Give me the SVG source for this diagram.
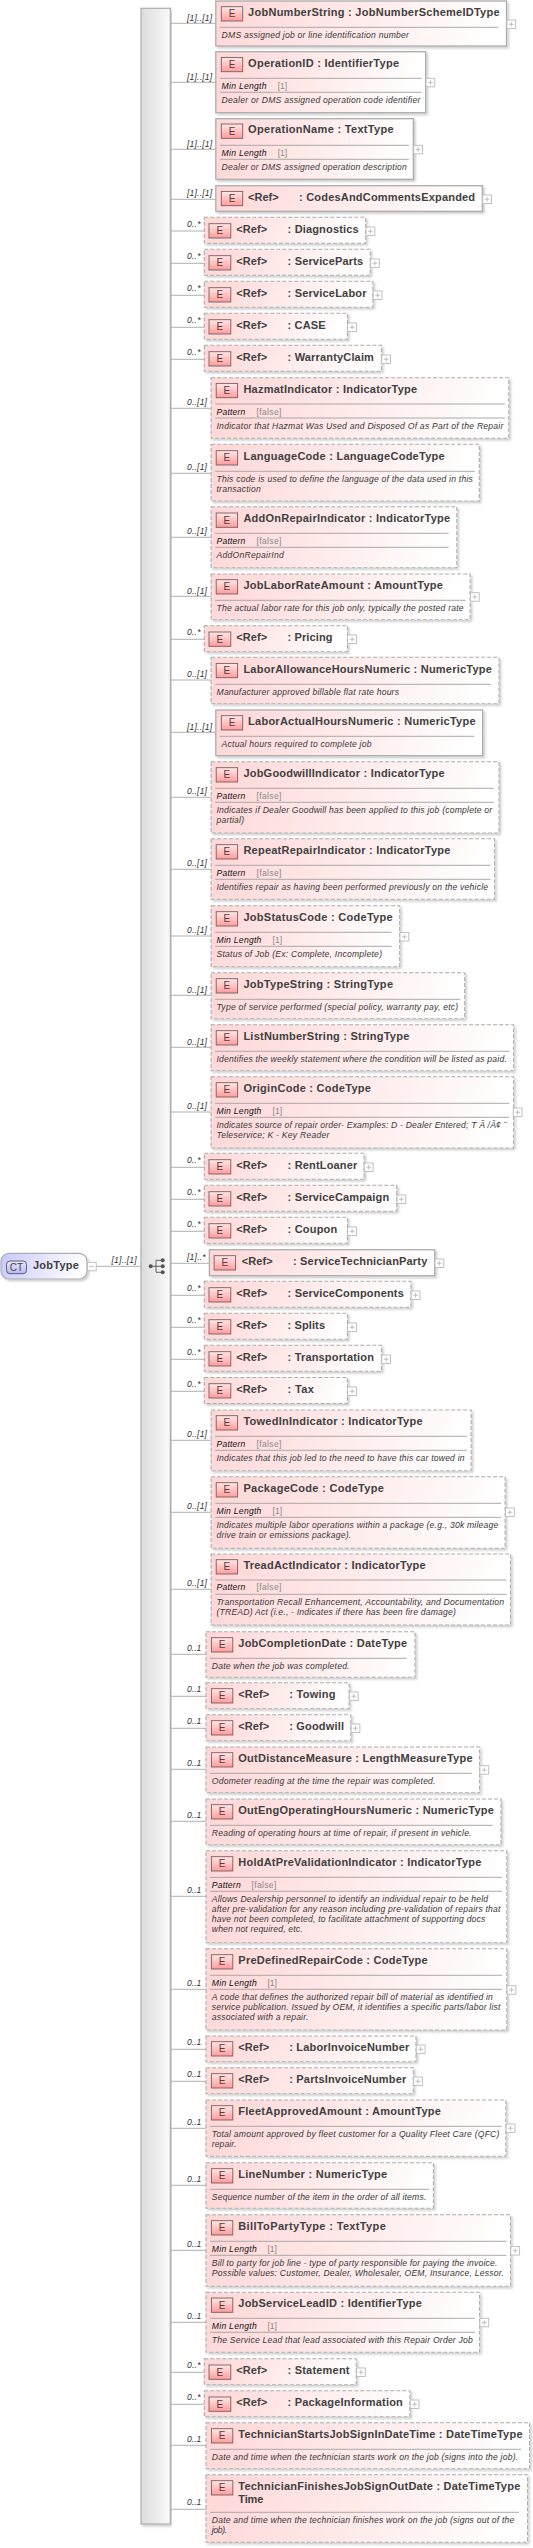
<svg xmlns="http://www.w3.org/2000/svg" xmlns:xlink="http://www.w3.org/1999/xlink" width="533" height="2548" viewBox="0 0 533 2548">
<style>
.bs,.bo{fill:url(#pk);stroke:#adadad;filter:url(#sh)}
.bs{stroke-width:1.3}
.bo{stroke-width:1.1;stroke-dasharray:4 2}
.eb{fill:url(#eg);stroke:#7b5c5c;stroke-width:.9}
text{font-family:"Liberation Sans",Arial,sans-serif}
.e{font-size:10px;fill:#5a3a3a;text-anchor:middle}
.t{font-size:11px;font-weight:bold;fill:#404040}
.d{font-size:8.6px;font-style:italic;fill:#383838}
.f{font-size:8.6px;font-style:italic;fill:#111}
.v{font-size:8.6px;fill:#8a8a8a}
.l{font-size:8.6px;font-style:italic;fill:#333}
.sp{stroke:#a0a0a0;stroke-width:.9;fill:none}
.c{stroke:#b0b0b0;stroke-width:1;fill:none}
.pb{fill:#fff;stroke:#bbb;stroke-width:.9}
.pl{stroke:#bbb;stroke-width:.9;fill:none}
</style>
<defs>
<linearGradient id="pk" x1="0" y1="0" x2="1" y2="0.08"><stop offset="0" stop-color="#ffd6d6"/><stop offset=".4" stop-color="#ffe6e6"/><stop offset="1" stop-color="#fff"/></linearGradient>
<linearGradient id="eg" x1="0" y1="0" x2="0" y2="1"><stop offset="0" stop-color="#ffe8e8"/><stop offset="1" stop-color="#ff9c9c"/></linearGradient>
<linearGradient id="bl" x1="0" y1="0" x2="1" y2="0.1"><stop offset="0" stop-color="#c8c8ff"/><stop offset="1" stop-color="#fff"/></linearGradient>
<linearGradient id="cg" x1="0" y1="0" x2="0" y2="1"><stop offset="0" stop-color="#e8e8ff"/><stop offset="1" stop-color="#b8b8f4"/></linearGradient>
<linearGradient id="br" x1="0" y1="0" x2="1" y2="0"><stop offset="0" stop-color="#dcdcdc"/><stop offset="1" stop-color="#fafafa"/></linearGradient>
<filter id="sh" x="-5%" y="-10%" width="110%" height="125%"><feDropShadow dx="1.8" dy="1.8" stdDeviation="1" flood-color="#000" flood-opacity=".2"/></filter>
<g id="plus"><rect class="pb" width="8.8" height="8.5"/><path class="pl" d="M2 4.25H6.8M4.4 1.9V6.6"/></g>
<g id="minus"><rect class="pb" width="8.8" height="8.5"/><path class="pl" d="M2 4.25H6.8"/></g>
</defs>

<g id="sequence-bar">
<rect x="141" y="8.3" width="29.3" height="2515.7" fill="url(#br)" stroke="#adadad" stroke-width="1.2" filter="url(#sh)"/>
<circle cx="150.7" cy="1266.3" r="2" fill="#555"/><circle cx="162.7" cy="1260.3" r="2" fill="#555"/><circle cx="162.7" cy="1266.3" r="2" fill="#555"/><circle cx="162.7" cy="1272.3" r="2" fill="#555"/>
<path d="M150.7 1266.3H156M156 1260.3V1272.3M156 1260.3H162.7M156 1266.3H162.7M156 1272.3H162.7" stroke="#555" stroke-width=".9" fill="none"/>
</g>

<g id="connectors">
<path class="c" d="M96 1266.3H141M170.3 23.3H215.8M170.3 82.3H215.8M170.3 149.3H215.8M170.3 199.3H215.8M170.3 231H204.3M170.3 263.3H204.3M170.3 295.3H204.3M170.3 327.3H204.3M170.3 359.3H204.3M170.3 408.3H211.1M170.3 473.3H211.1M170.3 537.3H211.1M170.3 596.3H211.1M170.3 639.3H204.3M170.3 680H211.1M170.3 732.3H215.8M170.3 797.3H211.1M170.3 869.3H211.1M170.3 936H211.1M170.3 995.3H211.1M170.3 1047.3H211.1M170.3 1112H211.1M170.3 1167.3H204.3M170.3 1199.3H204.3M170.3 1231.3H204.3M170.3 1263.3H209.4M170.3 1295.3H204.3M170.3 1327.3H204.3M170.3 1359.3H204.3M170.3 1391.3H204.3M170.3 1440.3H211.1M170.3 1512.3H211.1M170.3 1589.3H211.1M170.3 1654.3H206M170.3 1696.3H206M170.3 1728.3H206M170.3 1769.3H206M170.3 1821.3H206M170.3 1896.3H206M170.3 1989.3H206M170.3 2049.3H206M170.3 2081.3H206M170.3 2128.3H206M170.3 2185.3H206M170.3 2250.3H206M170.3 2322.3H206M170.3 2372.3H204.3M170.3 2404.3H204.3M170.3 2445.3H206M170.3 2509.3H206"/>
<text class="l" x="111.5" y="1263.3" textLength="25.2">[1]..[1]</text>
<text class="l" x="187" y="21" textLength="25.2">[1]..[1]</text>
<text class="l" x="187" y="80" textLength="25.2">[1]..[1]</text>
<text class="l" x="187" y="147" textLength="25.2">[1]..[1]</text>
<text class="l" x="187" y="195.7" textLength="25.2">[1]..[1]</text>
<text class="l" x="187" y="227" textLength="13.6">0..*</text>
<text class="l" x="187" y="259" textLength="13.6">0..*</text>
<text class="l" x="187" y="291" textLength="13.6">0..*</text>
<text class="l" x="187" y="323" textLength="13.6">0..*</text>
<text class="l" x="187" y="355" textLength="13.6">0..*</text>
<text class="l" x="187" y="405" textLength="20">0..[1]</text>
<text class="l" x="187" y="470" textLength="20">0..[1]</text>
<text class="l" x="187" y="534" textLength="20">0..[1]</text>
<text class="l" x="187" y="593.7" textLength="20">0..[1]</text>
<text class="l" x="187" y="635.3" textLength="13.6">0..*</text>
<text class="l" x="187" y="677" textLength="20">0..[1]</text>
<text class="l" x="187" y="730" textLength="25.2">[1]..[1]</text>
<text class="l" x="187" y="794.3" textLength="20">0..[1]</text>
<text class="l" x="187" y="866.3" textLength="20">0..[1]</text>
<text class="l" x="187" y="933" textLength="20">0..[1]</text>
<text class="l" x="187" y="992.7" textLength="20">0..[1]</text>
<text class="l" x="187" y="1044.7" textLength="20">0..[1]</text>
<text class="l" x="187" y="1109.3" textLength="20">0..[1]</text>
<text class="l" x="187" y="1163.3" textLength="13.6">0..*</text>
<text class="l" x="187" y="1195.3" textLength="13.6">0..*</text>
<text class="l" x="187" y="1227.3" textLength="13.6">0..*</text>
<text class="l" x="187" y="1260" textLength="18.7">[1]..*</text>
<text class="l" x="187" y="1291.3" textLength="13.6">0..*</text>
<text class="l" x="187" y="1323.3" textLength="13.6">0..*</text>
<text class="l" x="187" y="1355.3" textLength="13.6">0..*</text>
<text class="l" x="187" y="1387.3" textLength="13.6">0..*</text>
<text class="l" x="187" y="1437.3" textLength="20">0..[1]</text>
<text class="l" x="187" y="1509.3" textLength="20">0..[1]</text>
<text class="l" x="187" y="1586" textLength="20">0..[1]</text>
<text class="l" x="187" y="1651.3" textLength="14.3">0..1</text>
<text class="l" x="187" y="1692.3" textLength="14.3">0..1</text>
<text class="l" x="187" y="1724.3" textLength="14.3">0..1</text>
<text class="l" x="187" y="1766.3" textLength="14.3">0..1</text>
<text class="l" x="187" y="1818.3" textLength="14.3">0..1</text>
<text class="l" x="187" y="1893" textLength="14.3">0..1</text>
<text class="l" x="187" y="1986" textLength="14.3">0..1</text>
<text class="l" x="187" y="2045.3" textLength="14.3">0..1</text>
<text class="l" x="187" y="2077.3" textLength="14.3">0..1</text>
<text class="l" x="187" y="2125" textLength="14.3">0..1</text>
<text class="l" x="187" y="2182.3" textLength="14.3">0..1</text>
<text class="l" x="187" y="2247.3" textLength="14.3">0..1</text>
<text class="l" x="187" y="2319" textLength="14.3">0..1</text>
<text class="l" x="187" y="2368.3" textLength="13.6">0..*</text>
<text class="l" x="187" y="2400.3" textLength="13.6">0..*</text>
<text class="l" x="187" y="2442.3" textLength="14.3">0..1</text>
<text class="l" x="187" y="2505.3" textLength="14.3">0..1</text>
</g>

<g id="JobType">
<rect x="1" y="1253.3" width="86" height="25.7" rx="8" fill="url(#bl)" stroke="#adadad" stroke-width="1.2" filter="url(#sh)"/>
<rect x="6.5" y="1261" width="20" height="12.7" rx="3.5" fill="url(#cg)" stroke="#555" stroke-width=".9"/>
<text x="16.5" y="1271" font-size="10" fill="#444" text-anchor="middle">CT</text>
<text class="t" x="33" y="1268.5" textLength="45.9">JobType</text>
<use href="#minus" x="87.4" y="1262.3"/>
</g>

<g id="JobNumberString"><rect class="bs" x="215.8" y="1" width="290.7" height="45"/><rect class="eb" x="221.3" y="6.7" width="21.4" height="14.3"/><text class="e" x="232" y="17.4">E</text><text class="t" x="248.1" y="16" textLength="251.5">JobNumberString : JobNumberSchemeIDType</text><path class="sp" d="M219.9 27.3H498.3"/><text class="d" x="221.6" y="37.7" textLength="187.3">DMS assigned job or line identification number</text><use href="#plus" x="506.9" y="20"/></g>

<g id="OperationID"><rect class="bs" x="215.8" y="51.7" width="209.8" height="61"/><rect class="eb" x="221.3" y="57.4" width="21.4" height="14.3"/><text class="e" x="232" y="68.1">E</text><text class="t" x="248.1" y="66.7" textLength="150.9">OperationID : IdentifierType</text><path class="sp" d="M219.9 78.3H421.5M219.9 92.3H421.5"/><text class="f" x="221.6" y="88.7" textLength="44.9">Min Length</text><text class="v" x="277.7" y="88.7" textLength="9.5">[1]</text><text class="d" x="221.6" y="102.7" textLength="198.8">Dealer or DMS assigned operation code identifier</text><use href="#plus" x="426" y="78.3"/></g>

<g id="OperationName"><rect class="bs" x="215.8" y="118.7" width="197.5" height="60.6"/><rect class="eb" x="221.3" y="124" width="21.4" height="14.3"/><text class="e" x="232" y="134.7">E</text><text class="t" x="248.1" y="133.3" textLength="145.5">OperationName : TextType</text><path class="sp" d="M219.9 145.3H408.9M219.9 159.3H408.9"/><text class="f" x="221.6" y="155.7" textLength="44.9">Min Length</text><text class="v" x="277.7" y="155.7" textLength="9.5">[1]</text><text class="d" x="221.6" y="169.7" textLength="185.2">Dealer or DMS assigned operation description</text><use href="#plus" x="413.7" y="145.3"/></g>

<g id="CodesAndCommentsExpanded"><rect class="bs" x="215.8" y="185.7" width="266.5" height="25.6"/><rect class="eb" x="221.3" y="191.4" width="21.4" height="14.3"/><text class="e" x="232" y="202.1">E</text><text class="t" x="248.1" y="200.7" textLength="30.6">&lt;Ref&gt;</text><text class="t" x="299.1" y="200.7" textLength="176">: CodesAndCommentsExpanded</text><use href="#plus" x="482.7" y="195"/></g>

<g id="Diagnostics"><rect class="bo" x="204.3" y="217.3" width="161.4" height="26"/><rect class="eb" x="209" y="223.7" width="21.8" height="14.3"/><text class="e" x="219.9" y="234.4">E</text><text class="t" x="236.2" y="233" textLength="30.9">&lt;Ref&gt;</text><text class="t" x="287.6" y="233" textLength="71">: Diagnostics</text><use href="#plus" x="366" y="227"/></g>
<g id="ServiceParts"><rect class="bo" x="204.3" y="249.3" width="165.9" height="26"/><rect class="eb" x="209" y="255.7" width="21.8" height="14.3"/><text class="e" x="219.9" y="266.4">E</text><text class="t" x="236.2" y="265" textLength="30.9">&lt;Ref&gt;</text><text class="t" x="287.6" y="265" textLength="75.5">: ServiceParts</text><use href="#plus" x="370.5" y="259"/></g>
<g id="ServiceLabor"><rect class="bo" x="204.3" y="281.3" width="168.6" height="26"/><rect class="eb" x="209" y="287.7" width="21.8" height="14.3"/><text class="e" x="219.9" y="298.4">E</text><text class="t" x="236.2" y="297" textLength="30.9">&lt;Ref&gt;</text><text class="t" x="287.6" y="297" textLength="78.9">: ServiceLabor</text><use href="#plus" x="373.2" y="291"/></g>
<g id="CASE"><rect class="bo" x="204.3" y="313.3" width="143.1" height="26"/><rect class="eb" x="209" y="319.7" width="21.8" height="14.3"/><text class="e" x="219.9" y="330.4">E</text><text class="t" x="236.2" y="329" textLength="30.9">&lt;Ref&gt;</text><text class="t" x="287.6" y="329" textLength="38">: CASE</text><use href="#plus" x="347.7" y="323"/></g>
<g id="WarrantyClaim"><rect class="bo" x="204.3" y="345.3" width="177.1" height="26"/><rect class="eb" x="209" y="351.7" width="21.8" height="14.3"/><text class="e" x="219.9" y="362.4">E</text><text class="t" x="236.2" y="361" textLength="30.9">&lt;Ref&gt;</text><text class="t" x="287.6" y="361" textLength="86.3">: WarrantyClaim</text><use href="#plus" x="381.7" y="355"/></g>

<g id="HazmatIndicator"><rect class="bo" x="211.1" y="377.7" width="297.7" height="60.6"/><rect class="eb" x="216.2" y="383.4" width="21.4" height="14.3"/><text class="e" x="226.9" y="394.1">E</text><text class="t" x="243.4" y="392.7" textLength="173.7">HazmatIndicator : IndicatorType</text><path class="sp" d="M215.2 404H504.8M215.2 418H504.8"/><text class="f" x="216.5" y="415" textLength="28.9">Pattern</text><text class="v" x="256.6" y="415" textLength="24.8">[false]</text><text class="d" x="216.5" y="428.7" textLength="286.9">Indicator that Hazmat Was Used and Disposed Of as Part of the Repair</text></g>

<g id="LanguageCode"><rect class="bo" x="211.1" y="444.3" width="268.2" height="56.7"/><rect class="eb" x="216.2" y="450.7" width="21.4" height="14.3"/><text class="e" x="226.9" y="461.4">E</text><text class="t" x="243.4" y="460" textLength="201.2">LanguageCode : LanguageCodeType</text><path class="sp" d="M215.2 471.3H474.9"/><text class="d" x="216.5" y="482" textLength="256.3">This code is used to define the language of the data used in this</text><text class="d" x="216.5" y="492" textLength="44.2">transaction</text></g>

<g id="AddOnRepairIndicator"><rect class="bo" x="211.1" y="506.7" width="245.7" height="61"/><rect class="eb" x="216.2" y="513" width="21.4" height="14.3"/><text class="e" x="226.9" y="523.7">E</text><text class="t" x="243.4" y="522.3" textLength="206.7">AddOnRepairIndicator : IndicatorType</text><path class="sp" d="M215.2 533.3H448.7M215.2 547.3H448.7"/><text class="f" x="216.5" y="544.3" textLength="28.9">Pattern</text><text class="v" x="256.6" y="544.3" textLength="24.8">[false]</text><text class="d" x="216.5" y="558" textLength="67.3">AddOnRepairInd</text></g>

<g id="JobLaborRateAmount"><rect class="bo" x="211.1" y="574" width="259" height="45.7"/><rect class="eb" x="216.2" y="579.7" width="21.4" height="14.3"/><text class="e" x="226.9" y="590.4">E</text><text class="t" x="243.4" y="589" textLength="199.5">JobLaborRateAmount : AmountType</text><path class="sp" d="M215.2 600.3H465.7"/><text class="d" x="216.5" y="611" textLength="247.1">The actual labor rate for this job only, typically the posted rate</text><use href="#plus" x="470.4" y="592.7"/></g>

<g id="Pricing"><rect class="bo" x="204.3" y="625.7" width="143.1" height="26"/><rect class="eb" x="209" y="632" width="21.8" height="14.3"/><text class="e" x="219.9" y="642.7">E</text><text class="t" x="236.2" y="641.3" textLength="30.9">&lt;Ref&gt;</text><text class="t" x="287.6" y="641.3" textLength="44.9">: Pricing</text><use href="#plus" x="347.7" y="635"/></g>

<g id="LaborAllowanceHoursNumeric"><rect class="bo" x="211.1" y="657.3" width="287.9" height="46.4"/><rect class="eb" x="216.2" y="663.4" width="21.4" height="14.3"/><text class="e" x="226.9" y="674.1">E</text><text class="t" x="243.4" y="672.7" textLength="248.5">LaborAllowanceHoursNumeric : NumericType</text><path class="sp" d="M215.2 684.3H490.8"/><text class="d" x="216.5" y="695" textLength="182.5">Manufacturer approved billable flat rate hours</text></g>

<g id="LaborActualHoursNumeric"><rect class="bs" x="215.8" y="710" width="266.9" height="45.7"/><rect class="eb" x="221.3" y="715.7" width="21.4" height="14.3"/><text class="e" x="232" y="726.4">E</text><text class="t" x="248.1" y="725" textLength="227.4">LaborActualHoursNumeric : NumericType</text><path class="sp" d="M219.9 736.3H474.2"/><text class="d" x="221.6" y="747" textLength="149.9">Actual hours required to complete job</text></g>

<g id="JobGoodwillIndicator"><rect class="bo" x="211.1" y="761.7" width="287.9" height="71.3"/><rect class="eb" x="216.2" y="767.7" width="21.4" height="14.3"/><text class="e" x="226.9" y="778.4">E</text><text class="t" x="243.4" y="777" textLength="201.2">JobGoodwillIndicator : IndicatorType</text><path class="sp" d="M215.2 788.3H493.9M215.2 802.3H493.9"/><text class="f" x="216.5" y="798.7" textLength="28.9">Pattern</text><text class="v" x="256.6" y="798.7" textLength="24.8">[false]</text><text class="d" x="216.5" y="813" textLength="275.7">Indicates if Dealer Goodwill has been applied to this job (complete or</text><text class="d" x="216.5" y="823" textLength="27.5">partial)</text></g>

<g id="RepeatRepairIndicator"><rect class="bo" x="211.1" y="838.7" width="283.5" height="60.6"/><rect class="eb" x="216.2" y="844.7" width="21.4" height="14.3"/><text class="e" x="226.9" y="855.4">E</text><text class="t" x="243.4" y="854" textLength="207">RepeatRepairIndicator : IndicatorType</text><path class="sp" d="M215.2 865.3H490.5M215.2 879.3H490.5"/><text class="f" x="216.5" y="875.7" textLength="28.9">Pattern</text><text class="v" x="256.6" y="875.7" textLength="24.8">[false]</text><text class="d" x="216.5" y="890" textLength="271.6">Identifies repair as having been performed previously on the vehicle</text></g>

<g id="JobStatusCode"><rect class="bo" x="211.1" y="905.7" width="188.6" height="61"/><rect class="eb" x="216.2" y="911.7" width="21.4" height="14.3"/><text class="e" x="226.9" y="922.4">E</text><text class="t" x="243.4" y="921" textLength="149.2">JobStatusCode : CodeType</text><path class="sp" d="M215.2 932.3H391.6M215.2 946.3H391.6"/><text class="f" x="216.5" y="942.7" textLength="44.9">Min Length</text><text class="v" x="272.6" y="942.7" textLength="9.5">[1]</text><text class="d" x="216.5" y="957" textLength="165.5">Status of Job (Ex: Complete, Incomplete)</text><use href="#plus" x="400" y="932.5"/></g>

<g id="JobTypeString"><rect class="bo" x="211.1" y="972.7" width="253.6" height="46"/><rect class="eb" x="216.2" y="978.7" width="21.4" height="14.3"/><text class="e" x="226.9" y="989.4">E</text><text class="t" x="243.4" y="988" textLength="149.6">JobTypeString : StringType</text><path class="sp" d="M215.2 999.3H460.2"/><text class="d" x="216.5" y="1010" textLength="241.7">Type of service performed (special policy, warranty pay, etc)</text></g>

<g id="ListNumberString"><rect class="bo" x="211.1" y="1024.7" width="302.5" height="46"/><rect class="eb" x="216.2" y="1030.7" width="21.4" height="14.3"/><text class="e" x="226.9" y="1041.4">E</text><text class="t" x="243.4" y="1040" textLength="165.9">ListNumberString : StringType</text><path class="sp" d="M215.2 1051.3H509.2"/><text class="d" x="216.5" y="1062" textLength="290.3">Identifies the weekly statement where the condition will be listed as paid.</text></g>

<g id="OriginCode"><rect class="bo" x="211.1" y="1076.7" width="302.5" height="71.3"/><rect class="eb" x="216.2" y="1082.7" width="21.4" height="14.3"/><text class="e" x="226.9" y="1093.4">E</text><text class="t" x="243.4" y="1092" textLength="127.5">OriginCode : CodeType</text><path class="sp" d="M215.2 1103.3H509.2M215.2 1117.3H509.2"/><text class="f" x="216.5" y="1113.7" textLength="44.9">Min Length</text><text class="v" x="272.6" y="1113.7" textLength="9.5">[1]</text><text class="d" x="216.5" y="1128" textLength="290">Indicates source of repair order- Examples: D - Dealer Entered; T Â /Â¢ ¨</text><text class="d" x="216.5" y="1137.7" textLength="112.8">Teleservice; K - Key Reader</text><use href="#plus" x="513.2" y="1108"/></g>

<g id="RentLoaner"><rect class="bo" x="204.3" y="1153.3" width="159.7" height="26"/><rect class="eb" x="209" y="1159.7" width="21.8" height="14.3"/><text class="e" x="219.9" y="1170.4">E</text><text class="t" x="236.2" y="1169" textLength="30.9">&lt;Ref&gt;</text><text class="t" x="287.6" y="1169" textLength="69.7">: RentLoaner</text><use href="#plus" x="364.3" y="1163"/></g>
<g id="ServiceCampaign"><rect class="bo" x="204.3" y="1185.3" width="192.4" height="26"/><rect class="eb" x="209" y="1191.7" width="21.8" height="14.3"/><text class="e" x="219.9" y="1202.4">E</text><text class="t" x="236.2" y="1201" textLength="30.9">&lt;Ref&gt;</text><text class="t" x="287.6" y="1201" textLength="101.6">: ServiceCampaign</text><use href="#plus" x="397" y="1195"/></g>
<g id="Coupon"><rect class="bo" x="204.3" y="1217.3" width="143.1" height="26"/><rect class="eb" x="209" y="1223.7" width="21.8" height="14.3"/><text class="e" x="219.9" y="1234.4">E</text><text class="t" x="236.2" y="1233" textLength="30.9">&lt;Ref&gt;</text><text class="t" x="287.6" y="1233" textLength="49.6">: Coupon</text><use href="#plus" x="347.7" y="1227"/></g>
<g id="ServiceTechnicianParty"><rect class="bs" x="209.4" y="1249.7" width="225.3" height="26"/><rect class="eb" x="214.1" y="1255.7" width="21.5" height="14.3"/><text class="e" x="224.8" y="1266.4">E</text><text class="t" x="241.7" y="1265" textLength="30.9">&lt;Ref&gt;</text><text class="t" x="293" y="1265" textLength="134.3">: ServiceTechnicianParty</text><use href="#plus" x="435" y="1259"/></g>
<g id="ServiceComponents"><rect class="bo" x="204.3" y="1281.3" width="206.6" height="26"/><rect class="eb" x="209" y="1287.7" width="21.8" height="14.3"/><text class="e" x="219.9" y="1298.4">E</text><text class="t" x="236.2" y="1297" textLength="30.9">&lt;Ref&gt;</text><text class="t" x="287.6" y="1297" textLength="116.2">: ServiceComponents</text><use href="#plus" x="411.2" y="1291"/></g>
<g id="Splits"><rect class="bo" x="204.3" y="1313.3" width="143.1" height="26"/><rect class="eb" x="209" y="1319.7" width="21.8" height="14.3"/><text class="e" x="219.9" y="1330.4">E</text><text class="t" x="236.2" y="1329" textLength="30.9">&lt;Ref&gt;</text><text class="t" x="287.6" y="1329" textLength="37.4">: Splits</text><use href="#plus" x="347.7" y="1323"/></g>
<g id="Transportation"><rect class="bo" x="204.3" y="1345.3" width="177.1" height="26"/><rect class="eb" x="209" y="1351.7" width="21.8" height="14.3"/><text class="e" x="219.9" y="1362.4">E</text><text class="t" x="236.2" y="1361" textLength="30.9">&lt;Ref&gt;</text><text class="t" x="287.6" y="1361" textLength="86.3">: Transportation</text><use href="#plus" x="381.7" y="1355"/></g>
<g id="Tax"><rect class="bo" x="204.3" y="1377.5" width="143.1" height="26"/><rect class="eb" x="209" y="1383.7" width="21.8" height="14.3"/><text class="e" x="219.9" y="1394.4">E</text><text class="t" x="236.2" y="1393" textLength="30.9">&lt;Ref&gt;</text><text class="t" x="287.6" y="1393" textLength="26.2">: Tax</text><use href="#plus" x="347.7" y="1387"/></g>

<g id="TowedInIndicator"><rect class="bo" x="211.1" y="1410" width="260" height="60.7"/><rect class="eb" x="216.2" y="1415.7" width="21.4" height="14.3"/><text class="e" x="226.9" y="1426.4">E</text><text class="t" x="243.4" y="1425" textLength="179.1">TowedInIndicator : IndicatorType</text><path class="sp" d="M215.2 1436.3H467M215.2 1450.3H467"/><text class="f" x="216.5" y="1446.7" textLength="28.9">Pattern</text><text class="v" x="256.6" y="1446.7" textLength="24.8">[false]</text><text class="d" x="216.5" y="1461" textLength="248.1">Indicates that this job led to the need to have this car towed in</text></g>

<g id="PackageCode"><rect class="bo" x="211.1" y="1476.7" width="294" height="71.6"/><rect class="eb" x="216.2" y="1482.7" width="21.4" height="14.3"/><text class="e" x="226.9" y="1493.4">E</text><text class="t" x="243.4" y="1492" textLength="140.4">PackageCode : CodeType</text><path class="sp" d="M215.2 1503.3H501M215.2 1517.3H501"/><text class="f" x="216.5" y="1513.7" textLength="44.9">Min Length</text><text class="v" x="272.6" y="1513.7" textLength="9.5">[1]</text><text class="d" x="216.5" y="1528" textLength="281.8">Indicates multiple labor operations within a package (e.g., 30k mileage</text><text class="d" x="216.5" y="1538" textLength="134.6">drive train or emissions package).</text><use href="#plus" x="505.5" y="1508"/></g>

<g id="TreadActIndicator"><rect class="bo" x="211.1" y="1554" width="299.4" height="71"/><rect class="eb" x="216.2" y="1559.7" width="21.4" height="14.3"/><text class="e" x="226.9" y="1570.4">E</text><text class="t" x="243.4" y="1569" textLength="182.2">TreadActIndicator : IndicatorType</text><path class="sp" d="M215.2 1580H506.5M215.2 1594.3H506.5"/><text class="f" x="216.5" y="1590.3" textLength="28.9">Pattern</text><text class="v" x="256.6" y="1590.3" textLength="24.8">[false]</text><text class="d" x="216.5" y="1605" textLength="287.6">Transportation Recall Enhancement, Accountability, and Documentation</text><text class="d" x="216.5" y="1615" textLength="239.3">(TREAD) Act (i.e., - Indicates if there has been fire damage)</text></g>

<g id="JobCompletionDate"><rect class="bo" x="206" y="1631.7" width="209" height="45.6"/><rect class="eb" x="211.4" y="1637.7" width="21.4" height="14.3"/><text class="e" x="222.1" y="1648.4">E</text><text class="t" x="238.3" y="1647" textLength="168.9">JobCompletionDate : DateType</text><path class="sp" d="M210 1658.3H406.5"/><text class="d" x="211.8" y="1669" textLength="137.7">Date when the job was completed.</text></g>

<g id="Towing"><rect class="bo" x="206" y="1682.7" width="143.1" height="26"/><rect class="eb" x="211.4" y="1688.7" width="21.4" height="14.3"/><text class="e" x="222.1" y="1699.4">E</text><text class="t" x="238.3" y="1698" textLength="30.9">&lt;Ref&gt;</text><text class="t" x="289.3" y="1698" textLength="46.2">: Towing</text><use href="#plus" x="349.4" y="1692"/></g>
<g id="Goodwill"><rect class="bo" x="206" y="1714.7" width="144.8" height="26"/><rect class="eb" x="211.4" y="1720.7" width="21.4" height="14.3"/><text class="e" x="222.1" y="1731.4">E</text><text class="t" x="238.3" y="1730" textLength="30.9">&lt;Ref&gt;</text><text class="t" x="289.3" y="1730" textLength="54.7">: Goodwill</text><use href="#plus" x="351.1" y="1724"/></g>

<g id="OutDistanceMeasure"><rect class="bo" x="206" y="1747" width="273.6" height="45.7"/><rect class="eb" x="211.4" y="1752.7" width="21.4" height="14.3"/><text class="e" x="222.1" y="1763.4">E</text><text class="t" x="238.3" y="1762" textLength="234.2">OutDistanceMeasure : LengthMeasureType</text><path class="sp" d="M210 1773.3H471.8"/><text class="d" x="211.8" y="1784" textLength="223.7">Odometer reading at the time the repair was completed.</text><use href="#plus" x="479.9" y="1765.7"/></g>

<g id="OutEngOperatingHoursNumeric"><rect class="bo" x="206" y="1799" width="295" height="45.7"/><rect class="eb" x="211.4" y="1804.7" width="21.4" height="14.3"/><text class="e" x="222.1" y="1815.4">E</text><text class="t" x="238.3" y="1814" textLength="255.6">OutEngOperatingHoursNumeric : NumericType</text><path class="sp" d="M210 1825.3H492.5"/><text class="d" x="211.8" y="1836" textLength="259.7">Reading of operating hours at time of repair, if present in vehicle.</text></g>

<g id="HoldAtPreValidationIndicator"><rect class="bo" x="206" y="1850.7" width="300.8" height="92"/><rect class="eb" x="211.4" y="1856.7" width="21.4" height="14.3"/><text class="e" x="222.1" y="1867.4">E</text><text class="t" x="238.3" y="1866" textLength="243">HoldAtPreValidationIndicator : IndicatorType</text><path class="sp" d="M210 1877.3H502M210 1891.3H502"/><text class="f" x="211.8" y="1887.7" textLength="28.9">Pattern</text><text class="v" x="251.5" y="1887.7" textLength="24.8">[false]</text><text class="d" x="211.8" y="1902" textLength="276.3">Allows Dealership personnel to identify an individual repair to be held</text><text class="d" x="211.8" y="1912" textLength="288.6">after pre-validation for any reason including pre-validation of repairs that</text><text class="d" x="211.8" y="1922" textLength="273.6">have not been completed, to facilitate attachment of supporting docs</text><text class="d" x="211.8" y="1932" textLength="90.8">when not required, etc.</text></g>

<g id="PreDefinedRepairCode"><rect class="bo" x="206" y="1948.7" width="300.8" height="81.3"/><rect class="eb" x="211.4" y="1954.7" width="21.4" height="14.3"/><text class="e" x="222.1" y="1965.4">E</text><text class="t" x="238.3" y="1964" textLength="189.3">PreDefinedRepairCode : CodeType</text><path class="sp" d="M210 1975.3H502M210 1989.3H502"/><text class="f" x="211.8" y="1985.7" textLength="44.9">Min Length</text><text class="v" x="267.5" y="1985.7" textLength="9.5">[1]</text><text class="d" x="211.8" y="2000" textLength="281.1">A code that defines the authorized repair bill of material as identified in</text><text class="d" x="211.8" y="2010" textLength="288.6">service publication. Issued by OEM, it identifies a specific parts/labor list</text><text class="d" x="211.8" y="2020" textLength="96.5">associated with a repair.</text><use href="#plus" x="507.1" y="1985.7"/></g>

<g id="LaborInvoiceNumber"><rect class="bo" x="206" y="2036" width="210" height="25.7"/><rect class="eb" x="211.4" y="2041.7" width="21.4" height="14.3"/><text class="e" x="222.1" y="2052.4">E</text><text class="t" x="238.3" y="2051" textLength="30.9">&lt;Ref&gt;</text><text class="t" x="289.3" y="2051" textLength="120">: LaborInvoiceNumber</text><use href="#plus" x="416.3" y="2045"/></g>
<g id="PartsInvoiceNumber"><rect class="bo" x="206" y="2067.7" width="207.3" height="26"/><rect class="eb" x="211.4" y="2073.7" width="21.4" height="14.3"/><text class="e" x="222.1" y="2084.4">E</text><text class="t" x="238.3" y="2083" textLength="30.9">&lt;Ref&gt;</text><text class="t" x="289.3" y="2083" textLength="116.9">: PartsInvoiceNumber</text><use href="#plus" x="413.6" y="2077"/></g>

<g id="FleetApprovedAmount"><rect class="bo" x="206" y="2100" width="299.8" height="56.3"/><rect class="eb" x="211.4" y="2105.7" width="21.4" height="14.3"/><text class="e" x="222.1" y="2116.4">E</text><text class="t" x="238.3" y="2115" textLength="202.6">FleetApprovedAmount : AmountType</text><path class="sp" d="M210 2126.3H501.4"/><text class="d" x="211.8" y="2137" textLength="287.6">Total amount approved by fleet customer for a Quality Fleet Care (QFC)</text><text class="d" x="211.8" y="2147" textLength="24.5">repair.</text><use href="#plus" x="506.1" y="2124"/></g>

<g id="LineNumber"><rect class="bo" x="206" y="2162.7" width="227.4" height="45.6"/><rect class="eb" x="211.4" y="2168.7" width="21.4" height="14.3"/><text class="e" x="222.1" y="2179.4">E</text><text class="t" x="238.3" y="2178" textLength="148.9">LineNumber : NumericType</text><path class="sp" d="M210 2189.3H429.3"/><text class="d" x="211.8" y="2200" textLength="214.5">Sequence number of the item in the order of all items.</text></g>

<g id="BillToPartyType"><rect class="bo" x="206" y="2214.7" width="304.5" height="71.6"/><rect class="eb" x="211.4" y="2220.7" width="21.4" height="14.3"/><text class="e" x="222.1" y="2231.4">E</text><text class="t" x="238.3" y="2230" textLength="147.5">BillToPartyType : TextType</text><path class="sp" d="M210 2241.3H506.5M210 2255.3H506.5"/><text class="f" x="211.8" y="2251.7" textLength="44.9">Min Length</text><text class="v" x="267.5" y="2251.7" textLength="9.5">[1]</text><text class="d" x="211.8" y="2266" textLength="285.5">Bill to party for job line - type of party responsible for paying the invoice.</text><text class="d" x="211.8" y="2276" textLength="292">Possible values: Customer, Dealer, Wholesaler, OEM, Insurance, Lessor.</text><use href="#plus" x="510.8" y="2246.5"/></g>

<g id="JobServiceLeadID"><rect class="bo" x="206" y="2292.3" width="273.6" height="60"/><rect class="eb" x="211.4" y="2298" width="21.4" height="14.3"/><text class="e" x="222.1" y="2308.7">E</text><text class="t" x="238.3" y="2307.3" textLength="183.5">JobServiceLeadID : IdentifierType</text><path class="sp" d="M210 2318.3H474.9M210 2332.3H474.9"/><text class="f" x="211.8" y="2328.7" textLength="44.9">Min Length</text><text class="v" x="267.5" y="2328.7" textLength="9.5">[1]</text><text class="d" x="211.8" y="2343" textLength="261">The Service Lead that lead associated with this Repair Order Job</text><use href="#plus" x="479.9" y="2318.3"/></g>

<g id="Statement"><rect class="bo" x="204.3" y="2358.7" width="151.9" height="26"/><rect class="eb" x="209" y="2365" width="21.8" height="14.3"/><text class="e" x="219.9" y="2375.7">E</text><text class="t" x="236.2" y="2374.3" textLength="30.9">&lt;Ref&gt;</text><text class="t" x="287.6" y="2374.3" textLength="61.9">: Statement</text><use href="#plus" x="356.5" y="2368"/></g>
<g id="PackageInformation"><rect class="bo" x="204.3" y="2390.7" width="205.6" height="26"/><rect class="eb" x="209" y="2397" width="21.8" height="14.3"/><text class="e" x="219.9" y="2407.7">E</text><text class="t" x="236.2" y="2406.3" textLength="30.9">&lt;Ref&gt;</text><text class="t" x="287.6" y="2406.3" textLength="115.2">: PackageInformation</text><use href="#plus" x="410.2" y="2400"/></g>

<g id="TechnicianStartsJobSignInDateTime"><rect class="bo" x="206" y="2422.7" width="323.6" height="46"/><rect class="eb" x="211.4" y="2428.7" width="21.4" height="14.3"/><text class="e" x="222.1" y="2439.4">E</text><text class="t" x="238.3" y="2438" textLength="284.2">TechnicianStartsJobSignInDateTime : DateTimeType</text><path class="sp" d="M210 2449.3H521"/><text class="d" x="211.8" y="2460" textLength="306.3">Date and time when the technician starts work on the job (signs into the job).</text></g>

<g id="TechnicianFinishesJobSignOutDateTime"><rect class="bo" x="206" y="2474.7" width="321.5" height="67.6"/><rect class="eb" x="211.4" y="2480.7" width="21.4" height="14.3"/><text class="e" x="222.1" y="2491.4">E</text><text class="t" x="238.3" y="2490" textLength="282">TechnicianFinishesJobSignOutDate : DateTimeType</text><text class="t" x="238.3" y="2502.5" textLength="25">Time</text><path class="sp" d="M210 2512.3H519"/><text class="d" x="211.8" y="2523" textLength="302.5">Date and time when the technician finishes work on the job (signs out of the</text><text class="d" x="211.8" y="2533" textLength="15.3">job).</text></g>
</svg>
